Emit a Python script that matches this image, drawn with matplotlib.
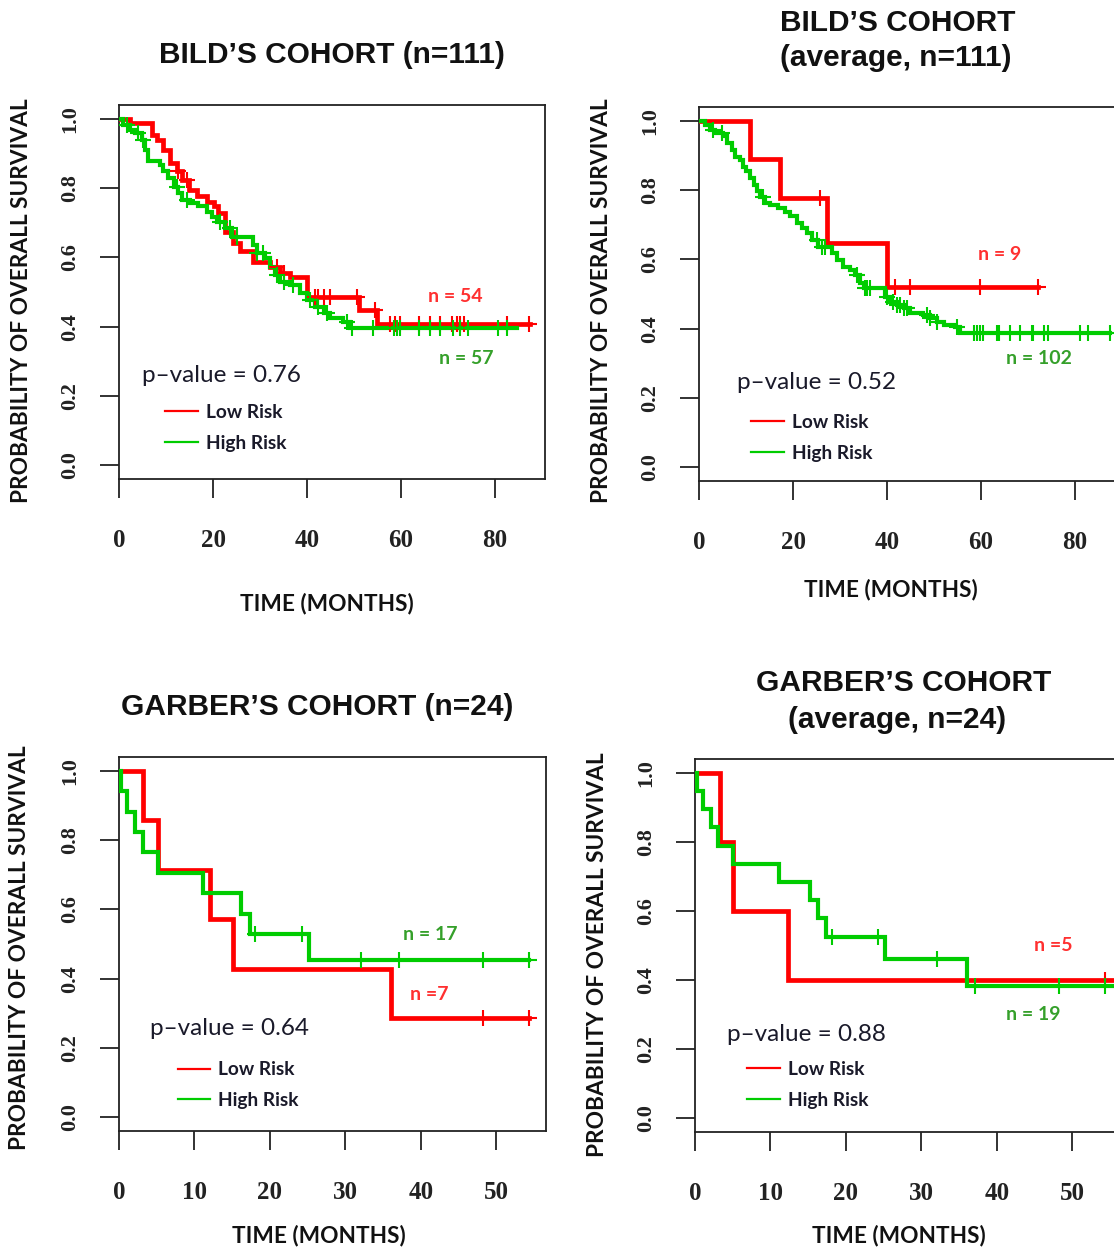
import matplotlib.pyplot as plt
import numpy as np

# Kaplan-Meier step data: event times (months) and survival after each step
bild_low_t = [0, 2.3, 7.0, 8.0, 9.4, 10.9, 12.3, 13.3, 14.8, 16.5, 18.7, 20.1, 21.1, 22.6,
              24.3, 25.7, 28.6, 32.1, 34.3, 36.4, 39.9, 51.0, 54.8]
bild_low_s = [1.0, 0.987, 0.954, 0.939, 0.910, 0.872, 0.848, 0.824, 0.795, 0.776, 0.761, 0.747,
              0.727, 0.674, 0.641, 0.617, 0.588, 0.573, 0.554, 0.544, 0.487, 0.448, 0.408]
bild_low_end = 87.4
bild_low_cens = [12.6, 14.4, 33.5, 35.0, 41.7, 42.4, 43.5, 44.9, 50.6, 54.5, 57.7, 58.7, 59.8,
                 63.7, 66.2, 68.3, 70.8, 71.8, 72.6, 73.3, 82.5, 87.1]

bild_high_t = [0, 0.9, 2.3, 3.4, 4.8, 5.5, 6.2, 8.7, 9.4, 10.5, 11.6, 12.6, 13.3, 15.1, 16.9,
               18.7, 19.7, 20.8, 22.6, 24.0, 28.6, 29.3, 31.1, 32.1, 33.2, 34.3, 36.4, 38.5,
               39.9, 41.7, 43.5, 44.9, 47.7, 49.1]
bild_high_s = [1.0, 0.983, 0.968, 0.959, 0.939, 0.910, 0.877, 0.867, 0.848, 0.829, 0.804, 0.785,
               0.766, 0.756, 0.747, 0.732, 0.718, 0.703, 0.684, 0.660, 0.635, 0.612, 0.597,
               0.573, 0.549, 0.530, 0.520, 0.496, 0.477, 0.458, 0.438, 0.424, 0.414, 0.395]
bild_high_end = 84.6
bild_high_cens = [1.6, 4.1, 5.2, 12.3, 14.4, 21.5, 23.6, 25.0, 29.3, 30.7, 33.5, 35.0, 37.1,
                  40.6, 42.4, 44.2, 48.4, 49.5, 54.1, 58.4, 59.1, 59.8, 63.7, 66.2, 68.3,
                  71.1, 72.6, 74.3, 80.7, 82.5]

bavg_low_t = [0, 10.85, 17.2, 27.2, 39.9]
bavg_low_s = [1.0, 0.889, 0.778, 0.648, 0.519]
bavg_low_end = 72.2
bavg_low_cens = [25.7, 41.7, 44.9, 59.8, 72.2]

bavg_high_t = [0, 1.3, 2.3, 3.4, 5.2, 5.9, 7.0, 7.7, 8.7, 9.4, 10.1, 10.8, 11.6, 12.3, 13.0,
               14.0, 15.1, 16.9, 18.3, 19.4, 20.8, 21.8, 22.9, 24.0, 25.4, 28.2, 29.3, 30.7,
               32.1, 33.2, 34.3, 35.0, 39.6, 40.6, 42.1, 43.5, 44.9, 47.7, 49.1, 50.6, 52.0,
               54.5, 55.5]
bavg_high_s = [1.0, 0.988, 0.974, 0.964, 0.955, 0.935, 0.916, 0.897, 0.887, 0.868, 0.854, 0.834,
               0.815, 0.796, 0.781, 0.762, 0.757, 0.748, 0.738, 0.724, 0.704, 0.690, 0.675,
               0.656, 0.637, 0.618, 0.598, 0.579, 0.569, 0.555, 0.531, 0.516, 0.492, 0.478,
               0.468, 0.459, 0.444, 0.439, 0.430, 0.420, 0.410, 0.406, 0.386]
bavg_high_end = 87.4
bavg_high_cens = [3.05, 4.8, 13.7, 25.0, 26.1, 26.8, 33.5, 35.3, 35.7, 36.4, 39.9, 41.3, 42.1,
                  42.8, 43.5, 44.2, 48.4, 49.1, 50.6, 54.8, 58.4, 59.1, 59.8, 60.5, 63.3,
                  63.7, 66.2, 68.3, 70.8, 71.1, 73.3, 74.3, 81.1, 82.8, 87.4]

garb_low_t = [0, 3.2, 5.2, 12.05, 15.1, 36.0]
garb_low_s = [1.0, 0.857, 0.714, 0.571, 0.429, 0.286]
garb_low_end = 54.3
garb_low_cens = [48.3, 54.3]

garb_high_t = [0, 0.2, 1.0, 2.1, 3.2, 5.2, 11.2, 16.2, 17.4, 25.2]
garb_high_s = [1.0, 0.941, 0.882, 0.824, 0.765, 0.706, 0.647, 0.588, 0.529, 0.454]
garb_high_end = 54.3
garb_high_cens = [18.0, 24.2, 32.1, 37.1, 48.3, 54.3]

gavg_low_t = [0, 3.3, 5.1, 12.3]
gavg_low_s = [1.0, 0.8, 0.6, 0.4]
gavg_low_end = 56.0
gavg_low_cens = [54.3, 56.0]

gavg_high_t = [0, 0.2, 1.1, 2.1, 3.1, 5.1, 11.2, 15.2, 16.3, 17.4, 25.2, 36.1]
gavg_high_s = [1.0, 0.947, 0.895, 0.842, 0.789, 0.737, 0.684, 0.632, 0.579, 0.526, 0.461, 0.384]
gavg_high_end = 56.5
gavg_high_cens = [18.1, 24.2, 32.1, 37.1, 48.3, 54.3, 56.5]

p_values = ['0.76', '0.52', '0.64', '0.88']
n_low = ['n = 54', 'n = 9', 'n =7', 'n =5']
n_high = ['n = 57', 'n = 102', 'n = 17', 'n = 19']

RED = '#ff0000'
GREEN = '#00cc00'
W, H = 1114, 1249
SANS = ['Lato', 'DejaVu Sans']


def km(ax, t, s, end, cens, color, lw):
  t = np.asarray(t)
  s = np.asarray(s)
  ax.step(np.append(t, end), np.append(s, s[-1]), where='post', color=color, lw=lw,
          solid_joinstyle='miter', zorder=3)
  idx = np.searchsorted(t, cens, side='right') - 1
  ax.plot(cens, s[idx], ls='none', marker='+', ms=12, mew=1.5, color=color, zorder=4)


def panel(px_left, px_top, px_w, px_h, xmax, xticks):
  ax = fig.add_axes([px_left / W, 1 - (px_top + px_h) / H, px_w / W, px_h / H])
  ax.set_xlim(0, xmax)
  ax.set_ylim(-0.04, 1.04)
  ax.set_xticks(xticks)
  ax.set_xticklabels([str(v) for v in xticks], family='Liberation Serif', weight='bold',
                     fontsize=18)
  ax.set_yticks([0, 0.2, 0.4, 0.6, 0.8, 1.0])
  ax.set_yticklabels(['0.0', '0.2', '0.4', '0.6', '0.8', '1.0'], family='Liberation Serif',
                     weight='bold', fontsize=16, rotation=90, va='center')
  ax.tick_params(axis='both', direction='out', length=14, width=1.3, colors='#222222')
  ax.tick_params(axis='x', pad=22)
  ax.tick_params(axis='y', pad=14)
  for sp in ax.spines.values():
    sp.set_linewidth(1.3)
    sp.set_color('#222222')
  return ax


def annotate(ax, i, p_xy, low_xy, high_xy, leg_xy):
  ax.text(p_xy[0], p_xy[1], 'p\u2013value = ' + p_values[i], family=SANS, fontsize=17.5,
          color='#1a1a2a', va='center', ha='left')
  ax.text(low_xy[0], low_xy[1], n_low[i], family=SANS, weight='bold', fontsize=14,
          color='#ff3030', va='center', ha='center')
  ax.text(high_xy[0], high_xy[1], n_high[i], family=SANS, weight='bold', fontsize=14,
          color='#35a02a', va='center', ha='center')
  hl, = ax.plot([], [], color=RED, lw=1.6)
  hh, = ax.plot([], [], color=GREEN, lw=1.6)
  ax.legend([hl, hh], ['Low Risk', 'High Risk'], loc='center left', bbox_to_anchor=leg_xy,
            bbox_transform=ax.transData, frameon=False, borderpad=0, borderaxespad=0,
            handlelength=1.7, handletextpad=0.42, labelspacing=0.72,
            prop={'family': SANS, 'weight': 'bold', 'size': 13.8}, labelcolor='#1a1a2a')


def ftext(x, y, s, **kw):
  fig.text(x / W, 1 - y / H, s, ha='center', va='center', **kw)


fig = plt.figure(figsize=(W / 100, H / 100), dpi=100, facecolor='w')

# BILD'S cohort
ax1 = panel(119, 105, 426, 374, 90.6, [0, 20, 40, 60, 80])
km(ax1, bild_low_t, bild_low_s, bild_low_end, bild_low_cens, RED, 3.4)
km(ax1, bild_high_t, bild_high_s, bild_high_end, bild_high_cens, GREEN, 3.0)
annotate(ax1, 0, (4.9, 0.26), (71.5, 0.486), (73.8, 0.309), (9.8, 0.107))

# BILD'S cohort, average
ax2 = panel(699, 107, 426, 374, 90.6, [0, 20, 40, 60, 80])
km(ax2, bavg_low_t, bavg_low_s, bavg_low_end, bavg_low_cens, RED, 3.4)
km(ax2, bavg_high_t, bavg_high_s, bavg_high_end, bavg_high_cens, GREEN, 3.0)
annotate(ax2, 1, (8.1, 0.243), (64.0, 0.613), (72.3, 0.315), (11.1, 0.084))

# GARBER'S cohort
ax3 = panel(119, 757, 427, 374, 56.6, [0, 10, 20, 30, 40, 50])
km(ax3, garb_low_t, garb_low_s, garb_low_end, garb_low_cens, RED, 3.4)
km(ax3, garb_high_t, garb_high_s, garb_high_end, garb_high_cens, GREEN, 3.0)
annotate(ax3, 2, (4.1, 0.257), (41.1, 0.353), (41.3, 0.526), (7.8, 0.092))

# GARBER'S cohort, average
ax4 = panel(695, 759, 427, 373, 56.6, [0, 10, 20, 30, 40, 50])
km(ax4, gavg_low_t, gavg_low_s, gavg_low_end, gavg_low_cens, RED, 3.4)
km(ax4, gavg_high_t, gavg_high_s, gavg_high_end, gavg_high_cens, GREEN, 3.0)
annotate(ax4, 3, (4.2, 0.241), (47.5, 0.501), (44.9, 0.299), (6.9, 0.096))

title_kw = dict(family='Liberation Sans', weight='bold', fontsize=21.5, color='#111111')
ftext(332, 55, "BILD\u2019S COHORT (n=111)", **title_kw)
ftext(898, 23, "BILD\u2019S COHORT", **title_kw)
ftext(896, 58, "(average, n=111)", **title_kw)
ftext(317, 707, "GARBER\u2019S COHORT (n=24)", **title_kw)
ftext(904, 683, "GARBER\u2019S COHORT", **title_kw)
ftext(897, 720, "(average, n=24)", **title_kw)

lab_kw = dict(family=SANS, weight='bold', fontsize=16.3, color='#111111')
for x, y in [(327, 603), (891, 590), (319, 1236), (899, 1236)]:
  ftext(x, y, 'TIME (MONTHS)', **lab_kw)
for x, y in [(22, 301), (602, 301), (20, 948), (598, 955)]:
  ftext(x, y, 'PROBABILITY OF OVERALL SURVIVAL', rotation=90, **lab_kw)

fig.savefig('out.png', dpi=100, facecolor='w')
